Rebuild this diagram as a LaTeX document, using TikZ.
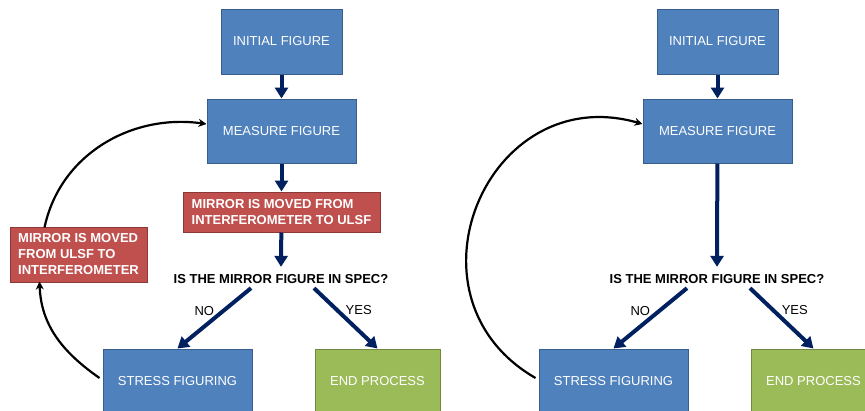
\documentclass[tikz,border=0pt]{standalone}
\usepackage{fontspec}
\setmainfont{Liberation Sans}
\usetikzlibrary{arrows.meta}
\definecolor{boxblue}{RGB}{79,129,189}
\definecolor{boxblueline}{RGB}{56,93,138}
\definecolor{boxred}{RGB}{192,80,77}
\definecolor{boxredline}{RGB}{140,56,54}
\definecolor{boxgreen}{RGB}{155,187,89}
\definecolor{boxgreenline}{RGB}{113,137,63}
\definecolor{navy}{RGB}{0,32,96}
\tikzset{
  stepbox/.style={draw=boxblueline, fill=boxblue, text=white, font=\fontsize{13}{15}\selectfont, line width=1pt},
  movebox/.style={draw=boxredline, fill=boxred, text=white, align=left, font=\fontsize{13}{16}\selectfont\bfseries, line width=1pt},
  endbox/.style={draw=boxgreenline, fill=boxgreen, text=white, font=\fontsize{13}{15}\selectfont, line width=1pt},
  flow/.style={navy, line width=4pt, -{Triangle[width=13pt,length=11pt]}},
  loop/.style={black, line width=2.2pt, -{Stealth[width=8pt,length=8pt]}},
  answer/.style={text=black, font=\fontsize{13}{15}\selectfont}
}
\begin{document}
\begin{tikzpicture}[x=1pt, y=-1pt]
\useasboundingbox (0,0) rectangle (865,410);
\clip (0,0) rectangle (865,410);
% left chart
\node[stepbox, minimum width=121pt, minimum height=65pt] (init1) at (281.5,41.5) {INITIAL FIGURE};
\node[stepbox, minimum width=149pt, minimum height=64pt] (meas1) at (281.5,131) {MEASURE FIGURE};
\node[movebox, minimum width=197pt, minimum height=40pt, inner sep=0pt] (move1) at (281.5,212) {MIRROR IS MOVED FROM\\INTERFEROMETER TO ULSF};
\node[answer, font=\fontsize{13}{15}\selectfont\bfseries] (spec1) at (281,279) {IS THE MIRROR FIGURE IN SPEC?};
\node[stepbox, minimum width=149pt, minimum height=64pt] (stress1) at (177.5,381) {STRESS FIGURING};
\node[endbox, minimum width=125pt, minimum height=64pt] (end1) at (377.5,381) {END PROCESS};
\node[movebox, minimum width=137pt, minimum height=55pt, inner sep=0pt] (move2) at (78.5,254.5) {MIRROR IS MOVED\\FROM ULSF TO\\INTERFEROMETER};
\draw[flow] (init1) -- (meas1);
\draw[flow] (meas1) -- (move1);
\draw[flow] (move1) -- ([yshift=4pt]spec1.north);
\draw[flow] ([xshift=-30pt, yshift=-1pt]spec1.south) -- (stress1.north)
  node[answer, pos=.5, xshift=-10pt, yshift=7pt] (no1) {NO};
\draw[flow] ([xshift=33pt, yshift=-1pt]spec1.south) -- (end1.north)
  node[answer, pos=.5, xshift=13pt, yshift=8pt] (yes1) {YES};
\draw[loop] ([xshift=-3pt, yshift=3pt]stress1.west) to[out=145, in=-88] ([xshift=30pt, yshift=1pt]move2.south west);
\draw[loop] ([xshift=35pt, yshift=-1pt]move2.north west) to[out=78, in=172] ([yshift=7pt]meas1.west);
% right chart
\node[stepbox, minimum width=121pt, minimum height=65pt] (init2) at (717.5,41.5) {INITIAL FIGURE};
\node[stepbox, minimum width=149pt, minimum height=64pt] (meas2) at (717.5,131) {MEASURE FIGURE};
\node[answer, font=\fontsize{13}{15}\selectfont\bfseries] (spec2) at (717,279) {IS THE MIRROR FIGURE IN SPEC?};
\node[stepbox, minimum width=149pt, minimum height=64pt] (stress2) at (613.5,381) {STRESS FIGURING};
\node[endbox, minimum width=125pt, minimum height=64pt] (end2) at (813.5,381) {END PROCESS};
\draw[flow] (init2) -- (meas2);
\draw[flow] (meas2) -- ([yshift=4pt]spec2.north);
\draw[flow] ([xshift=-30pt, yshift=-1pt]spec2.south) -- (stress2.north)
  node[answer, pos=.5, xshift=-10pt, yshift=7pt] (no2) {NO};
\draw[flow] ([xshift=33pt, yshift=-1pt]spec2.south) -- (end2.north)
  node[answer, pos=.5, xshift=13pt, yshift=8pt] (yes2) {YES};
\draw[loop] ([xshift=-3pt, yshift=3pt]stress2.west) to[out=150, in=164, looseness=1.5] ([yshift=7pt]meas2.west);
\end{tikzpicture}
\end{document}
